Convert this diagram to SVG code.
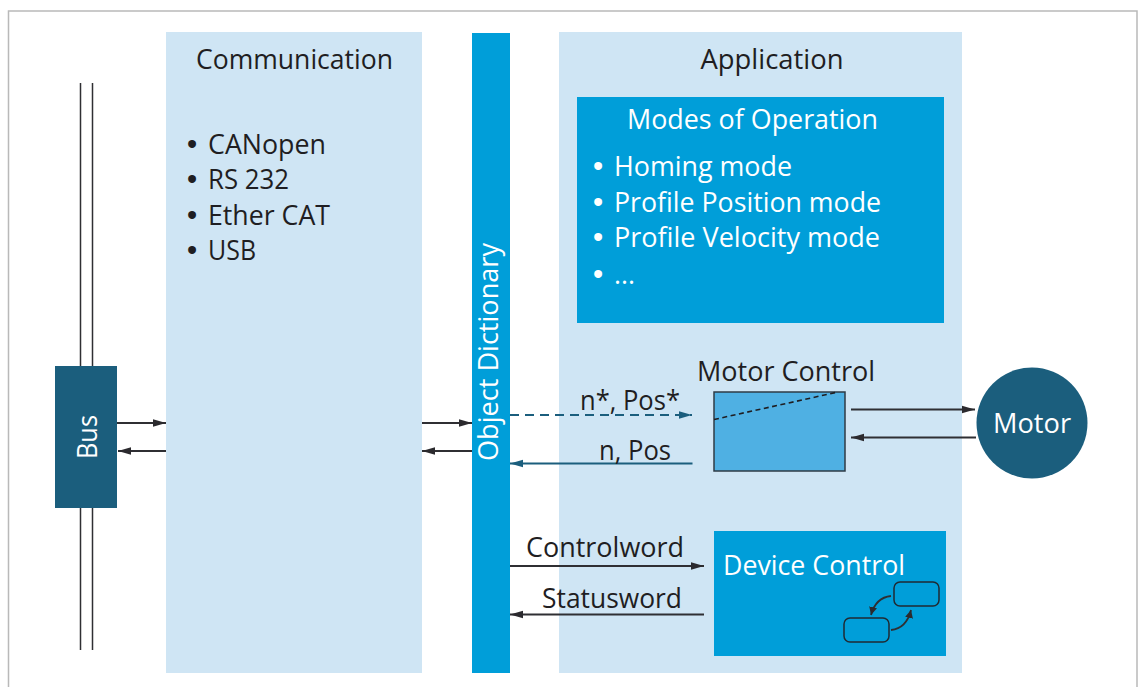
<svg xmlns="http://www.w3.org/2000/svg" width="1139" height="687" viewBox="0 0 1139 687">
<style>
text{font-family:"Open Sans","Noto Sans",sans-serif;font-size:26.500px;fill:#1f1e22}
.w{fill:#fff}
.m{text-anchor:middle}
.b{font-family:"Liberation Sans",sans-serif;font-size:29px}
.pale{fill:#cfe5f4}
.blue{fill:#009ed9}
.dark{fill:#1b5e7d}
.c{fill:none;stroke:#2f2f33;stroke-width:1.800}
.t{fill:none;stroke:#1b5e7d;stroke-width:1.800}
</style>
<defs>
<marker id="a" markerUnits="userSpaceOnUse" markerWidth="14" markerHeight="9" refX="13" refY="4.500" orient="auto"><path d="M0 .8L13 4.500L0 8.200z" fill="#2b2a2e"/></marker>
<marker id="b" markerUnits="userSpaceOnUse" markerWidth="14" markerHeight="9" refX="13" refY="4.500" orient="auto"><path d="M0 .8L13 4.500L0 8.200z" fill="#1b5e7d"/></marker>
<marker id="s" markerUnits="userSpaceOnUse" markerWidth="9" markerHeight="9" refX="8" refY="4.500" orient="auto"><path d="M0 .5L8 4.500L0 8.500z" fill="#2b2a2e"/></marker>
</defs>
<rect width="1139" height="687" fill="#fff"/>
<path d="M8.500 687V11H1137V687" fill="none" stroke="#b9b9b9" stroke-width="1.500"/>
<g id="bus-lines"><path d="M80.500 83V650M92.500 83V650" fill="none" stroke="#2f2f33" stroke-width="1.500"/></g>
<g id="communication"><rect class="pale" x="166" y="32" width="256" height="641"/>
<text class="m" x="294.500" y="69" textLength="197" lengthAdjust="spacingAndGlyphs">Communication</text>
<text x="187" y="153.500"><tspan class="b">• </tspan><tspan x="208" textLength="118" lengthAdjust="spacingAndGlyphs">CANopen</tspan></text>
<text x="187" y="188.500"><tspan class="b">• </tspan><tspan x="208" textLength="81" lengthAdjust="spacingAndGlyphs">RS 232</tspan></text>
<text x="187" y="224.500"><tspan class="b">• </tspan><tspan x="208" textLength="122" lengthAdjust="spacingAndGlyphs">Ether CAT</tspan></text>
<text x="187" y="259.500"><tspan class="b">• </tspan><tspan x="208" textLength="48" lengthAdjust="spacingAndGlyphs">USB</tspan></text></g>
<g id="application"><rect class="pale" x="559" y="32" width="403" height="641"/>
<text class="m" x="772" y="69" textLength="143" lengthAdjust="spacingAndGlyphs">Application</text></g>
<g id="object-dictionary"><rect class="blue" x="472" y="33" width="38" height="640"/>
<text class="w m" transform="translate(498 352) rotate(-90)" textLength="218" lengthAdjust="spacingAndGlyphs">Object Dictionary</text></g>
<g id="modes"><rect class="blue" x="577" y="97" width="367" height="226"/>
<text class="w m" x="752.500" y="128.500" textLength="251" lengthAdjust="spacingAndGlyphs">Modes of Operation</text>
<text class="w" x="593" y="175.500"><tspan class="b">• </tspan><tspan x="614" textLength="178" lengthAdjust="spacingAndGlyphs">Homing mode</tspan></text>
<text class="w" x="593" y="211.500"><tspan class="b">• </tspan><tspan x="614" textLength="267" lengthAdjust="spacingAndGlyphs">Profile Position mode</tspan></text>
<text class="w" x="593" y="246.500"><tspan class="b">• </tspan><tspan x="614" textLength="266" lengthAdjust="spacingAndGlyphs">Profile Velocity mode</tspan></text>
<text class="w" x="593" y="283.500"><tspan class="b">• </tspan><tspan x="614" textLength="21" lengthAdjust="spacingAndGlyphs">...</tspan></text></g>
<g id="motor-control"><text class="m" x="786" y="380.500" textLength="178" lengthAdjust="spacingAndGlyphs">Motor Control</text>
<rect x="714" y="392" width="131" height="79" fill="#4fb0e3" stroke="#2f3b45" stroke-width="1.500"/>
<path d="M714 419.500L838 392" fill="none" stroke="#1f1e22" stroke-width="1.600" stroke-dasharray="5 3.500"/></g>
<g id="device-control"><rect class="blue" x="714" y="531" width="232" height="125"/>
<text class="w" x="723" y="574.500" textLength="182" lengthAdjust="spacingAndGlyphs">Device Control</text>
<rect x="894" y="582" width="45" height="24" rx="6" fill="none" stroke="#1f2a33" stroke-width="1.500"/>
<rect x="844" y="618" width="45" height="24" rx="6" fill="none" stroke="#1f2a33" stroke-width="1.500"/>
<path d="M891 596C881 597 874 604 871 615" class="c" marker-end="url(#s)"/>
<path d="M891 630C901 629 908 622 911 610" class="c" marker-end="url(#s)"/></g>
<g id="bus"><rect class="dark" x="55" y="366" width="62" height="142"/>
<text class="w m" transform="translate(97 437) rotate(-90)" textLength="44" lengthAdjust="spacingAndGlyphs">Bus</text></g>
<g id="motor"><circle class="dark" cx="1032" cy="423" r="55.500"/>
<text class="w m" x="1032" y="432.500" textLength="78" lengthAdjust="spacingAndGlyphs">Motor</text></g>
<g id="connectors">
<path class="c" marker-end="url(#a)" d="M117 423H166"/>
<path class="c" marker-end="url(#a)" d="M166 451H118"/>
<path class="c" marker-end="url(#a)" d="M422 423H472"/>
<path class="c" marker-end="url(#a)" d="M472 451H422"/>
<path class="t" stroke-dasharray="9 6" marker-end="url(#b)" d="M510 415H692"/>
<path class="t" marker-end="url(#b)" d="M692.500 463.500H510"/>
<path class="c" marker-end="url(#a)" d="M851 409.500H975"/>
<path class="c" marker-end="url(#a)" d="M976 437.500H851"/>
<path class="c" marker-end="url(#a)" d="M510 566H704"/>
<path class="c" marker-end="url(#a)" d="M704 614.500H510"/>
</g>
<g id="labels">
<text x="580" y="409.500" textLength="100" lengthAdjust="spacingAndGlyphs">n*, Pos*</text>
<text x="599" y="459.500" textLength="72" lengthAdjust="spacingAndGlyphs">n, Pos</text>
<text x="526" y="556.500" textLength="158" lengthAdjust="spacingAndGlyphs">Controlword</text>
<text x="542" y="607.500" textLength="140" lengthAdjust="spacingAndGlyphs">Statusword</text>
</g>
</svg>
